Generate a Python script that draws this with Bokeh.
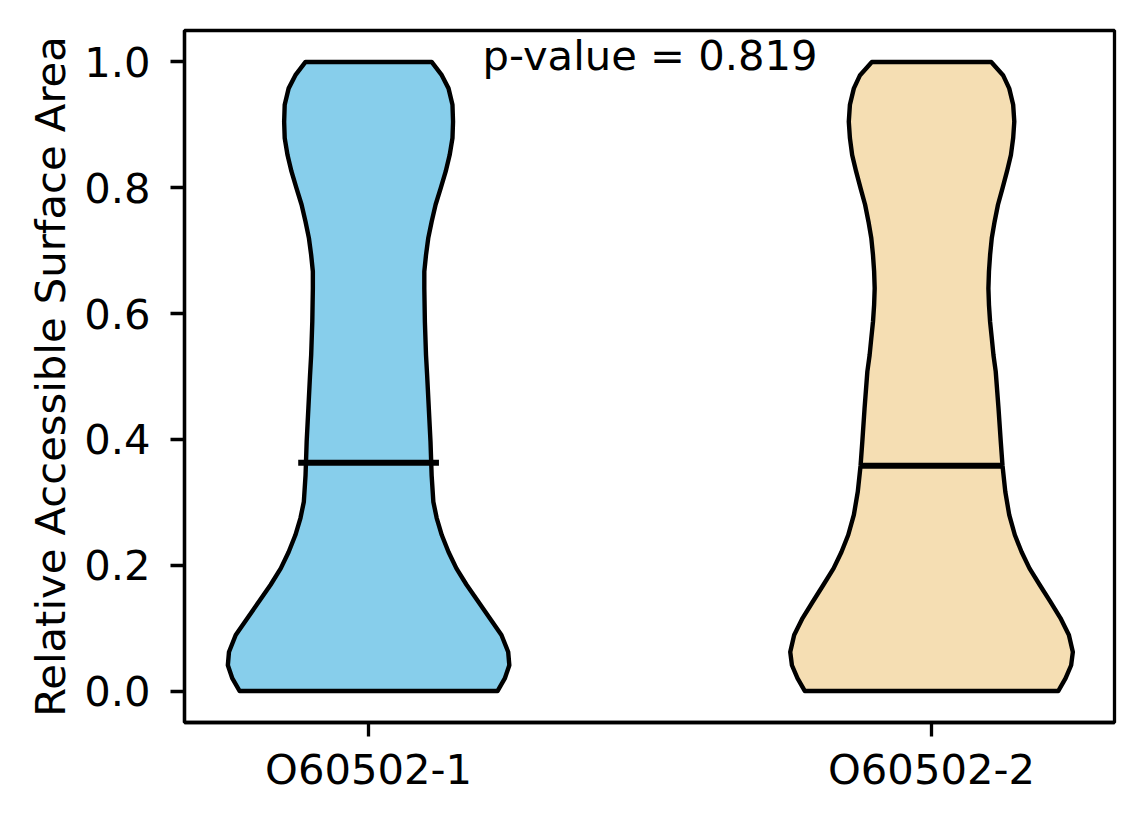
import numpy as np
from bokeh.core.properties import value
from bokeh.embed import file_html
from bokeh.models import FixedTicker, PrintfTickFormatter
from bokeh.plotting import figure
from bokeh.resources import INLINE

# Datos: perfil de cada violin (y, media anchura)
categorias = ["O60502-1", "O60502-2"]
posiciones = [1, 2]
colores = ["#87CEEB", "#F5DEB3"]

y_1 = [1.0, 0.979, 0.958, 0.932, 0.905, 0.879, 0.852, 0.826, 0.799, 0.773,
       0.746, 0.720, 0.693, 0.667, 0.640, 0.587, 0.534, 0.502, 0.449, 0.396,
       0.343, 0.301, 0.275, 0.248, 0.221, 0.195, 0.169, 0.142, 0.116, 0.089,
       0.062, 0.041, 0.020, 0.0]
ancho_1 = [0.112, 0.130, 0.142, 0.149, 0.150, 0.149, 0.144, 0.137, 0.128, 0.119,
           0.112, 0.106, 0.102, 0.099, 0.099, 0.100, 0.102, 0.104, 0.107, 0.110,
           0.112, 0.115, 0.121, 0.130, 0.142, 0.156, 0.174, 0.195, 0.215, 0.236,
           0.248, 0.250, 0.242, 0.229]

y_2 = [1.0, 0.979, 0.958, 0.932, 0.905, 0.879, 0.852, 0.826, 0.799, 0.773,
       0.746, 0.720, 0.693, 0.667, 0.640, 0.614, 0.587, 0.561, 0.534, 0.508,
       0.449, 0.396, 0.359, 0.317, 0.280, 0.248, 0.221, 0.195, 0.169, 0.142,
       0.116, 0.089, 0.062, 0.041, 0.020, 0.0]
ancho_2 = [0.106, 0.127, 0.138, 0.145, 0.147, 0.145, 0.141, 0.134, 0.126, 0.118,
           0.112, 0.107, 0.104, 0.102, 0.101, 0.102, 0.104, 0.107, 0.110, 0.114,
           0.119, 0.123, 0.126, 0.131, 0.138, 0.148, 0.160, 0.174, 0.192, 0.211,
           0.229, 0.244, 0.251, 0.248, 0.238, 0.225]

medianas = [0.363, 0.358]
p_valor = 0.819

FUENTE = "DejaVu Sans"
TAM = "41.7px"

p = figure(
    width=1128,
    height=808,
    x_range=(0.673, 2.325),
    y_range=(-0.05, 1.05),
    output_backend="svg",
    toolbar_location=None,
    min_border_left=184,
    min_border_right=14,
    min_border_top=30,
    min_border_bottom=86,
)

# Violines
xs, ys = [], []
for pos, yy, aa in [(posiciones[0], y_1, ancho_1), (posiciones[1], y_2, ancho_2)]:
    yy = np.array(yy)
    aa = np.array(aa)
    xs.append(np.concatenate([pos - aa, (pos + aa)[::-1]]).tolist())
    ys.append(np.concatenate([yy, yy[::-1]]).tolist())
p.patches(xs, ys, fill_color=colores, line_color="black", line_width=4.4,
          line_join="round")

# Medianas
mitad = 0.125
p.segment(
    x0=[x - mitad for x in posiciones],
    y0=medianas,
    x1=[x + mitad for x in posiciones],
    y1=medianas,
    line_color="black",
    line_width=6,
)

# Texto del p-valor
p.text(
    x=[1.5],
    y=[1.01],
    text=[f"p-value = {p_valor:.3f}"],
    text_align="center",
    text_baseline="alphabetic",
    text_font=value(FUENTE),
    text_font_size=value(TAM),
    text_color="black",
)

# Ejes
p.xgrid.visible = False
p.ygrid.visible = False
p.outline_line_color = "black"
p.outline_line_width = 3.3

p.xaxis.ticker = FixedTicker(ticks=posiciones)
p.xaxis.major_label_overrides = {pos: cat for pos, cat in zip(posiciones, categorias)}
p.yaxis.ticker = FixedTicker(ticks=[0.0, 0.2, 0.4, 0.6, 0.8, 1.0])
p.yaxis.formatter = PrintfTickFormatter(format="%.1f")
p.yaxis.axis_label = "Relative Accessible Surface Area"

for eje in [p.xaxis, p.yaxis]:
    eje.axis_line_color = "black"
    eje.axis_line_width = 3.3
    eje.major_tick_line_color = "black"
    eje.major_tick_line_width = 3.3
    eje.major_tick_out = 14
    eje.major_tick_in = 0
    eje.minor_tick_line_color = None
    eje.major_label_text_font = FUENTE
    eje.major_label_text_font_size = TAM
    eje.major_label_text_color = "black"
    eje.major_label_standoff = 20
    eje.axis_label_text_font = FUENTE
    eje.axis_label_text_font_size = TAM
    eje.axis_label_text_font_style = "normal"
    eje.axis_label_text_color = "black"
    eje.axis_label_standoff = 6

p.xaxis.major_label_standoff = 8

open("out.html", "w").write(file_html(p, INLINE))
